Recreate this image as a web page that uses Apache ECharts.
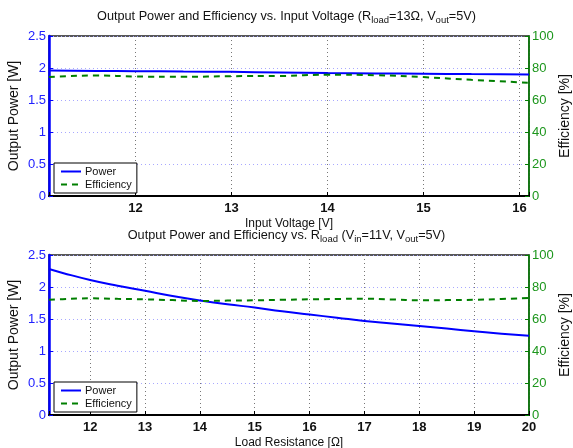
<!DOCTYPE html>
<html>
<head>
<meta charset="utf-8">
<script src="https://cdn.jsdelivr.net/npm/echarts@6/dist/echarts.min.js"></script>
<style>
  html, body { margin: 0; padding: 0; background: #fff; }
  #chart { width: 573px; height: 448px; }
</style>
</head>
<body>
<div id="chart"></div>
<script>
// Sweep 1: input voltage (R_load = 13 Ω, V_out = 5 V)
const vinValues   = [11.1, 11.6, 12, 12.5, 13, 13.5, 14, 14.5, 15, 15.5, 16.1];
const vinPower    = [1.96, 1.955, 1.95, 1.945, 1.94, 1.93, 1.92, 1.915, 1.91, 1.905, 1.90];
const vinEff      = [74.4, 75.3, 74.7, 74.5, 74.9, 75.0, 75.8, 75.5, 74.3, 72.6, 70.8];

// Sweep 2: load resistance (V_in = 11 V, V_out = 5 V)
const rloadValues = [11.25, 11.5, 12, 12.5, 13, 13.5, 14, 14.5, 15, 15.5, 16, 16.5, 17, 17.5, 18, 18.5, 19, 19.5, 20];
const rloadPower  = [2.28, 2.22, 2.11, 2.02, 1.94, 1.86, 1.79, 1.73, 1.68, 1.62, 1.57, 1.52, 1.47, 1.43, 1.39, 1.35, 1.31, 1.27, 1.24];
const rloadEff    = [72.1, 72.4, 72.9, 72.6, 72.3, 71.8, 71.3, 71.5, 71.7, 72.0, 72.3, 72.5, 72.7, 72.2, 71.7, 71.8, 72.0, 72.5, 73.1];

const powerTicks = [0, 0.5, 1, 1.5, 2, 2.5];
const effTicks   = [0, 20, 40, 60, 80, 100];

const FONT = 'Liberation Sans, Arial, Helvetica, sans-serif';
const BLUE = '#0000ff';
const BLUE_TXT = '#2020ff';
const GREEN = '#007f00';
const GREEN_TXT = '#1c961c';

const pair = (xs, ys) => xs.map((x, i) => [x, ys[i]]);

function xAxisFor(gridIndex, min, max, name, splitNumber) {
  return {
    gridIndex, type: 'value', min, max, splitNumber,
    name, nameLocation: 'middle', nameGap: 22, nameMoveOverlap: false,
    nameTextStyle: { fontFamily: FONT, fontSize: 12, color: '#111', verticalAlign: 'top' },
    axisLine: { lineStyle: { color: '#000', width: 2 } },
    axisTick: { inside: true, length: 4, lineStyle: { color: '#000' } },
    axisLabel: {
      fontFamily: FONT, fontSize: 13, fontWeight: 'bold', color: '#111', margin: 6,
      formatter: v => (Math.abs(v - Math.round(v)) < 1e-9 ? String(Math.round(v)) : '')
    },
    splitLine: { show: true, lineStyle: { color: '#777', type: [1, 3], width: 1 } }
  };
}

function powerAxis(gridIndex) {
  return {
    gridIndex, type: 'value', position: 'left', min: 0, max: 2.5, interval: 0.5,
    name: 'Output Power [W]', nameLocation: 'middle', nameGap: 28, nameRotate: 90,
    nameMoveOverlap: false,
    nameTextStyle: { fontFamily: FONT, fontSize: 14, color: '#111' },
    axisLine: { show: true, lineStyle: { color: BLUE, width: 2.5 } },
    axisTick: { show: true, inside: true, length: 4, lineStyle: { color: BLUE } },
    axisLabel: {
      fontFamily: FONT, fontSize: 13, color: BLUE_TXT, margin: 3,
      formatter: v => (powerTicks.includes(v) ? String(v) : '')
    },
    splitLine: { show: true, lineStyle: { color: '#a8a8ff', type: [1, 3], width: 1 } }
  };
}

function effAxis(gridIndex) {
  return {
    gridIndex, type: 'value', position: 'right', min: 0, max: 100, interval: 20,
    name: 'Efficiency [%]', nameLocation: 'middle', nameGap: 29, nameRotate: 90,
    nameMoveOverlap: false,
    nameTextStyle: { fontFamily: FONT, fontSize: 14, color: '#111' },
    axisLine: { show: true, lineStyle: { color: GREEN, width: 1.5 } },
    axisTick: { show: true, inside: true, length: 4, lineStyle: { color: GREEN } },
    axisLabel: {
      fontFamily: FONT, fontSize: 13, color: GREEN_TXT, margin: 3,
      formatter: v => (effTicks.includes(v) ? String(v) : '')
    },
    splitLine: { show: false }
  };
}

function legendAt(top) {
  return {
    orient: 'vertical', left: 54, top,
    data: ['Power', 'Efficiency'],
    backgroundColor: '#fff', borderColor: '#000', borderWidth: 1, borderRadius: 0,
    padding: [3, 5, 3, 6], itemGap: 2, itemWidth: 20, itemHeight: 10,
    itemStyle: { opacity: 0 },
    textStyle: { fontFamily: FONT, fontSize: 11, color: '#111', padding: [0, 0, 0, -1] },
    selectedMode: false
  };
}

const subRich = {
  sub: { fontFamily: FONT, fontSize: 9.5, color: '#111', padding: [8, 0, 0, 0] }
};

function titleAt(top, text) {
  return {
    text, left: 'center', top,
    textStyle: { fontFamily: FONT, fontSize: 12.7, fontWeight: 'normal', color: '#111', rich: subRich }
  };
}

const powerLine = { color: BLUE, width: 2 };
const effLine = { color: GREEN, width: 2, type: [6, 5] };

const gridBase = {
  left: 49, width: 480, height: 160, show: true,
  borderColor: '#222', borderWidth: 1.5, backgroundColor: 'transparent',
  containLabel: false, outerBoundsMode: 'none'
};

const option = {
  backgroundColor: '#fff',
  animation: false,
  title: [
    titleAt(2, 'Output Power and Efficiency vs. Input Voltage (R{sub|load}=13Ω, V{sub|out}=5V)'),
    titleAt(221, 'Output Power and Efficiency vs. R{sub|load} (V{sub|in}=11V, V{sub|out}=5V)')
  ],
  legend: [legendAt(163), legendAt(382)],
  grid: [
    Object.assign({}, gridBase, { top: 36 }),
    Object.assign({}, gridBase, { top: 255 })
  ],
  xAxis: [
    xAxisFor(0, 11.1, 16.1, 'Input Voltage [V]', 5),
    xAxisFor(1, 11.25, 20, 'Load Resistance [Ω]', 9)
  ],
  yAxis: [powerAxis(0), effAxis(0), powerAxis(1), effAxis(1)],
  series: [
    { name: 'Power', type: 'line', xAxisIndex: 0, yAxisIndex: 0, data: pair(vinValues, vinPower),
      symbol: 'none', smooth: true, lineStyle: powerLine, itemStyle: { color: BLUE }, z: 3 },
    { name: 'Efficiency', type: 'line', xAxisIndex: 0, yAxisIndex: 1, data: pair(vinValues, vinEff),
      symbol: 'none', smooth: true, lineStyle: effLine, itemStyle: { color: GREEN }, z: 3 },
    { name: 'Power', type: 'line', xAxisIndex: 1, yAxisIndex: 2, data: pair(rloadValues, rloadPower),
      symbol: 'none', smooth: true, lineStyle: powerLine, itemStyle: { color: BLUE }, z: 3 },
    { name: 'Efficiency', type: 'line', xAxisIndex: 1, yAxisIndex: 3, data: pair(rloadValues, rloadEff),
      symbol: 'none', smooth: true, lineStyle: effLine, itemStyle: { color: GREEN }, z: 3 }
  ]
};

const chart = echarts.init(document.getElementById('chart'), null, { renderer: 'canvas' });
chart.setOption(option);
</script>
</body>
</html>
